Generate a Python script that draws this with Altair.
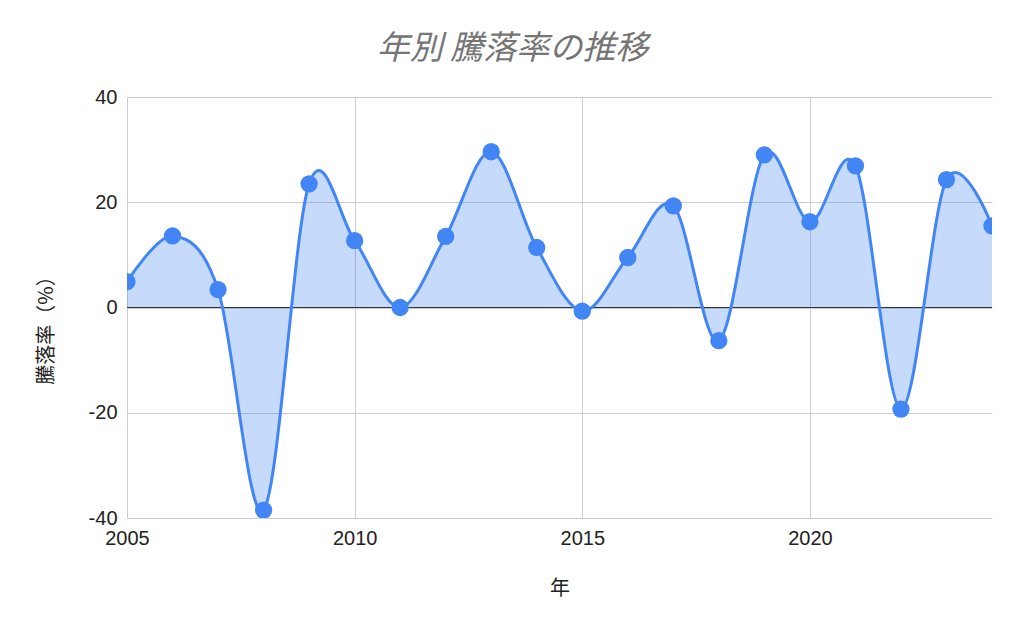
import altair as alt
import pandas as pd

years = list(range(2005, 2025))
returns = [4.9, 13.6, 3.4, -38.5, 23.5, 12.7, 0.0, 13.5, 29.6, 11.4,
           -0.7, 9.5, 19.3, -6.3, 29.0, 16.3, 26.9, -19.3, 24.3, 15.5]

df = pd.DataFrame({"year": years, "ret": returns})

LINE = "#4285F4"
FONT = "Liberation Sans, Noto Sans CJK JP"
MINUS_FIX = "replace(datum.label, '\u2212', '-')"
CURVE = "cardinal"

x = alt.X("year:Q", scale=alt.Scale(domain=[2005, 2024], nice=False, zero=False),
          axis=alt.Axis(values=[2005, 2010, 2015, 2020], format="d", title="年",
                        grid=True, gridColor="#cccccc", domain=False, ticks=False,
                        labelFlush=False, labelFontSize=20,
                        labelPadding=10, titlePadding=30))
y = alt.Y("ret:Q", scale=alt.Scale(domain=[-40, 40], nice=False),
          axis=alt.Axis(values=[-40, -20, 0, 20, 40], title="騰落率（%）",
                        grid=True, gridColor="#cccccc", domain=False, ticks=False,
                        labelExpr=MINUS_FIX, labelFontSize=20,
                        labelPadding=10, titlePadding=32, titleY=228))

base = alt.Chart(df)

area = base.mark_area(interpolate=CURVE, color=LINE, opacity=0.3, clip=True).encode(
    x=x, y=y, y2=alt.datum(0))
line = base.mark_line(interpolate=CURVE, color=LINE, strokeWidth=3, clip=True).encode(x=x, y=y)
zero = alt.Chart(pd.DataFrame({"z": [0]})).mark_rule(color="#333333", strokeWidth=1).encode(
    y=alt.Y("z:Q"))
pts = base.mark_circle(color=LINE, size=300, opacity=1, clip=True).encode(x=x, y=y)

chart = alt.layer(area, zero, line, pts).properties(
    width=865, height=421,
    autosize=alt.AutoSizeParams(type="none"),
    padding={"left": 119, "top": 89, "right": 24, "bottom": 106},
    title=alt.TitleParams("年別 騰落率の推移", font="Noto Sans CJK JP", fontSize=33,
                          fontStyle="italic", fontWeight="normal", color="#757575",
                          anchor="middle", dx=-47, offset=21),
).configure_axis(
    labelFont=FONT, labelColor="#222222",
    titleFont="Noto Sans CJK JP", titleFontSize=20, titleColor="#222222", titleFontWeight="normal",
).configure_view(stroke=None)

chart.save("out.html", embed_options={"renderer": "svg", "actions": False})
